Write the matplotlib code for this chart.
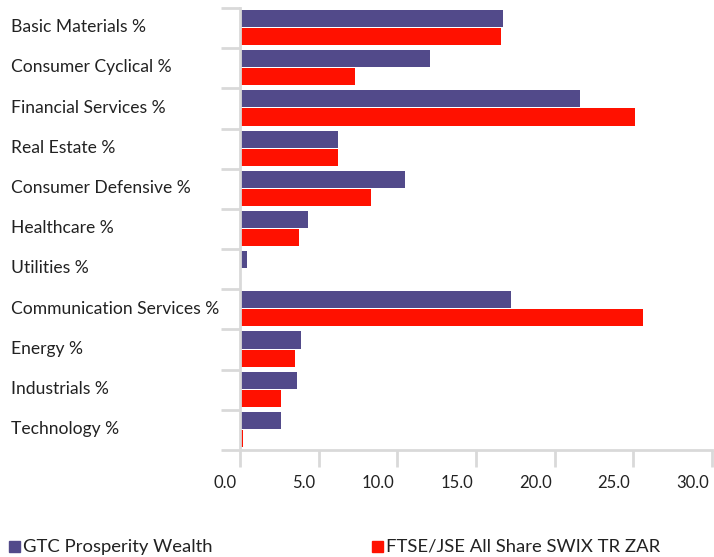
import numpy as np
import matplotlib
matplotlib.use("Agg")
import matplotlib.pyplot as plt
import matplotlib.transforms as mtransforms
from matplotlib.patches import Rectangle

plt.rcParams['font.family'] = ['Lato', 'DejaVu Sans']

# data
sectors = ['Basic Materials %', 'Consumer Cyclical %', 'Financial Services %', 'Real Estate %',
           'Consumer Defensive %', 'Healthcare %', 'Utilities %', 'Communication Services %',
           'Energy %', 'Industrials %', 'Technology %']
gtc = [16.7, 12.1, 21.6, 6.2, 10.5, 4.3, 0.45, 17.2, 3.9, 3.6, 2.6]
ftse = [16.6, 7.3, 25.1, 6.2, 8.3, 3.75, 0.0, 25.6, 3.5, 2.6, 0.2]
series_names = ['GTC Prosperity Wealth', 'FTSE/JSE All Share SWIX TR ZAR']
xticks = [0, 5, 10, 15, 20, 25, 30]

purple = '#524a8a'
red = '#ff1100'
grey = '#d9d9d9'
txt = '#222222'

W, H = 714, 557
fig = plt.figure(figsize=(W / 100, H / 100), dpi=100)
ax = fig.add_axes([240 / W, (H - 450) / H, (712 - 240) / W, (450 - 8) / H])

y = np.arange(len(sectors))
ax.barh(y - 0.2375, gtc, height=0.425, color=purple, left=0)
ax.barh(y + 0.2125, ftse, height=0.425, color=red, left=0)

ax.set_xlim(0, 30)
ax.set_ylim(len(sectors) - 0.5, -0.5)

for s in ['top', 'right']:
    ax.spines[s].set_visible(False)
for s in ['left', 'bottom']:
    ax.spines[s].set_color(grey)
    ax.spines[s].set_linewidth(2)

# y ticks at category boundaries, labels drawn as text
ax.set_yticks(np.arange(-0.5, len(sectors), 1.0))
ax.set_yticklabels([])
ax.tick_params(axis='y', length=14, width=2, color=grey)

ax.set_xticks(xticks)
ax.set_xticklabels(['%.1f' % v for v in xticks], fontsize=12, color=txt)
ax.tick_params(axis='x', length=12, width=2, color=grey, pad=6)
off = mtransforms.ScaledTranslation(-3 / 100, 0, fig.dpi_scale_trans)
for lab in ax.get_xticklabels():
    lab.set_horizontalalignment('right')
    lab.set_transform(lab.get_transform() + off)

tr = mtransforms.blended_transform_factory(fig.transFigure, ax.transData)
for i, name in enumerate(sectors):
    ax.text(11 / W, i - 0.02, name, transform=tr, ha='left', va='center',
            fontsize=12.6, color=txt)

# legend
cols = [purple, red]
xs = [9, 372]
for name, c, x0 in zip(series_names, cols, xs):
    fig.patches.append(Rectangle((x0 / W, (H - 552) / H), 11 / W, 11 / H,
                                 transform=fig.transFigure, color=c))
    fig.text((x0 + 14) / W, (H - 547) / H, name, ha='left', va='center',
             fontsize=13.3, color=txt)

fig.savefig('out.png', dpi=100)
